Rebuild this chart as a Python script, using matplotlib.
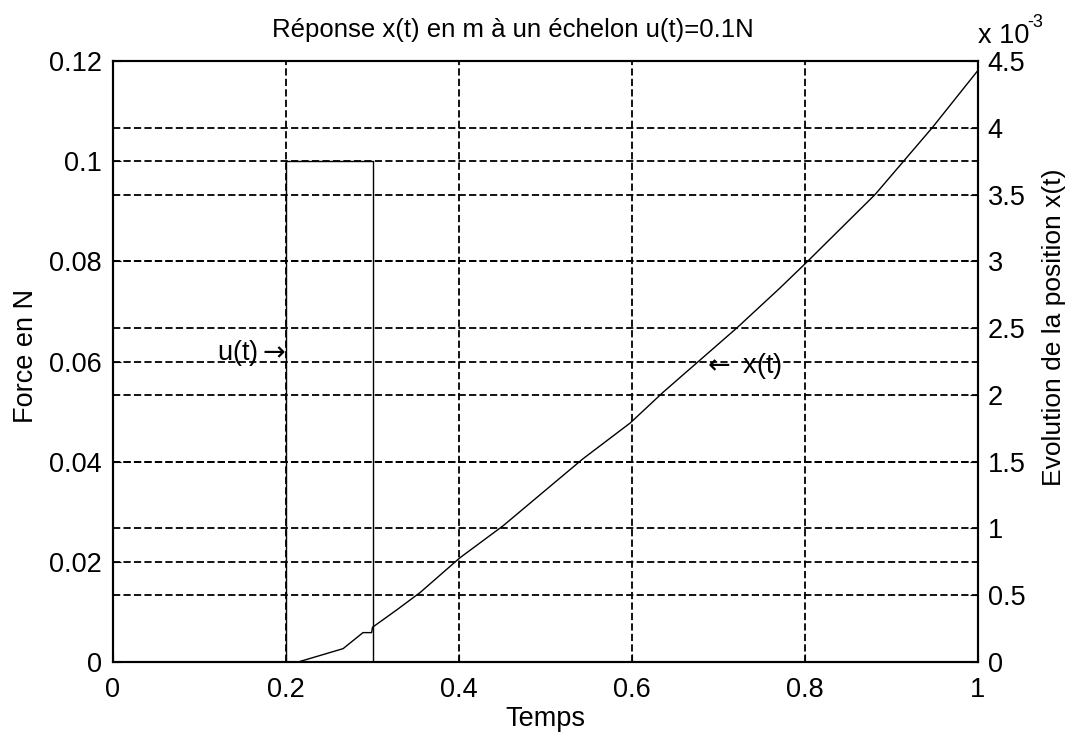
import numpy as np
import matplotlib.pyplot as plt
from matplotlib.ticker import FuncFormatter

plt.rcParams['font.family'] = ['Liberation Sans', 'DejaVu Sans']

# echelon u(t) en N
t_u = [0.0, 0.2, 0.2, 0.3, 0.3, 1.0]
u = [0.0, 0.0, 0.1, 0.1, 0.0, 0.0]

# position x(t) en m
t_x = [0.0, 0.2, 0.214, 0.24, 0.266, 0.289, 0.299, 0.300, 0.328, 0.355,
       0.401, 0.451, 0.543, 0.598, 0.636, 0.721, 0.771, 0.803, 0.881,
       0.947, 1.0]
x_pos = [0.0, 0.0, 0.0, 0.05e-3, 0.10e-3, 0.22e-3, 0.22e-3, 0.26e-3,
         0.39e-3, 0.52e-3, 0.78e-3, 1.02e-3, 1.52e-3, 1.79e-3, 2.02e-3,
         2.50e-3, 2.80e-3, 3.0e-3, 3.5e-3, 4.0e-3, 4.43e-3]

left_ticks = [0, 0.02, 0.04, 0.06, 0.08, 0.1, 0.12]
right_ticks = [0, 0.5e-3, 1e-3, 1.5e-3, 2e-3, 2.5e-3, 3e-3, 3.5e-3, 4e-3, 4.5e-3]
x_ticks = [0, 0.2, 0.4, 0.6, 0.8, 1]

fs_tick = 19.5
fs_lab = 19.5
fs_title = 18.5
dash = (0, (4, 1.8))

fig = plt.figure(figsize=(10.68, 7.35), dpi=100)
ax = fig.add_axes([113 / 1068, 1 - 662 / 735, 865 / 1068, 601 / 735])
ax2 = ax.twinx()

ax.plot(t_u, u, color='black', lw=1.0)
ax.set_xlim(0, 1)
ax.set_ylim(0, 0.12)
ax.set_xticks(x_ticks)
ax.set_yticks(left_ticks)
ax.set_xticklabels(['0', '0.2', '0.4', '0.6', '0.8', '1'])
ax.set_yticklabels(['0', '0.02', '0.04', '0.06', '0.08', '0.1', '0.12'])
ax.grid(True, color='black', linestyle=dash, lw=1.3)
ax.tick_params(direction='in', length=6, labelsize=fs_tick, right=False, top=False)
ax.tick_params(axis='x', pad=11)
ax.tick_params(axis='y', pad=8)

ax.set_xlabel('Temps', fontsize=fs_lab, va='baseline')
ax.xaxis.set_label_coords(0.5, (662 - 726) / 601)
ax.set_ylabel('Force en N', fontsize=fs_lab)
ax.yaxis.label.set_verticalalignment('baseline')
ax.yaxis.set_label_coords((33 - 113) / 865, 0.509)

ax2.plot(t_x, x_pos, color='black', lw=1.0)
ax2.set_ylim(0, 4.5e-3)
ax2.set_yticks(right_ticks)
ax2.yaxis.set_major_formatter(FuncFormatter(lambda v, p: f'{v * 1e3:g}'))
ax2.grid(True, axis='y', color='black', linestyle=dash, lw=1.3)
ax2.tick_params(direction='in', length=6, labelsize=fs_tick, pad=7)
ax2.set_ylabel('Evolution de la position x(t)', fontsize=19)
ax2.yaxis.label.set_verticalalignment('baseline')
ax2.yaxis.set_label_coords((1061 - 113) / 865, 0.557)
fig.text(978 / 1068, 1 - 43 / 735, 'x 10', fontsize=fs_tick, ha='left', va='baseline')
fig.text(1027 / 1068, 1 - 27 / 735, '-3', fontsize=13, ha='left', va='baseline')

for a in (ax, ax2):
    for s in a.spines.values():
        s.set_linewidth(1.5)

ax.text(0.2, 0.0616, 'u(t)$\\rightarrow$', fontsize=fs_lab, ha='right', va='center')
ax2.text(0.681, 2.22e-3, '$\\leftarrow$ x(t)', fontsize=fs_lab, ha='left', va='center')

fig.text(513 / 1068, 1 - 30 / 735, 'Réponse x(t) en m à un échelon u(t)=0.1N',
         fontsize=fs_title, ha='center', va='center')

fig.savefig('out.png', dpi=100)
